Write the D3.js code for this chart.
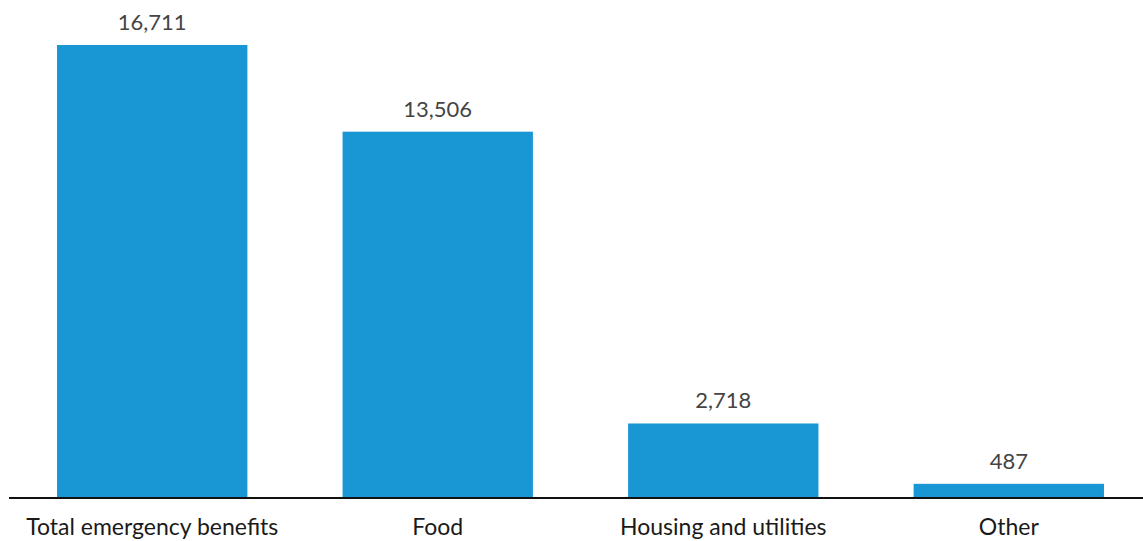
<!DOCTYPE html>
<html>
<head>
<meta charset="utf-8">
<script src="https://cdn.jsdelivr.net/npm/d3@7"></script>
<style>
  body { margin: 0; background: #fff; }
  text { font-family: Lato, "Open Sans", sans-serif; }
</style>
</head>
<body>
<script>
// chart values
const categories = ["Total emergency benefits", "Food", "Housing and utilities", "Other"];
const values = [16711, 13506, 2718, 487];

const width = 1143;
const height = 541;
const baseY = 497;

const svg = d3.select("body")
    .append("svg")
    .attr("width", width)
    .attr("height", height);

const xScale = d3.scaleBand()
    .domain(categories)
    .range([14.2, 1146.8])
    .paddingInner(1 / 3)
    .paddingOuter(0.15);

const yScale = d3.scaleLinear()
    .domain([0, 16711])
    .range([baseY, 45]);

// bars
svg.selectAll(".bar")
    .data(categories)
    .enter()
    .append("rect")
    .attr("class", "bar")
    .attr("x", d => xScale(d))
    .attr("width", xScale.bandwidth())
    .attr("y", (d, i) => yScale(values[i]))
    .attr("height", (d, i) => baseY - yScale(values[i]))
    .style("fill", "#1897d4");

// value labels
svg.selectAll(".val")
    .data(categories)
    .enter()
    .append("text")
    .attr("class", "val")
    .attr("x", d => xScale(d) + xScale.bandwidth() / 2)
    .attr("y", (d, i) => yScale(values[i]) - 15)
    .attr("text-anchor", "middle")
    .attr("font-size", "22px")
    .attr("fill", "#444")
    .text((d, i) => d3.format(",")(values[i]));

// x axis
const xAxis = d3.axisBottom(xScale).tickSize(0).tickPadding(21);
const gx = svg.append("g")
    .attr("transform", "translate(0," + (baseY + 1) + ")")
    .call(xAxis);
gx.select(".domain").remove();
gx.selectAll("text")
    .attr("font-size", "23px")
    .attr("fill", "#1a1a1a");
gx.append("line")
    .attr("x1", 9)
    .attr("x2", width)
    .attr("stroke", "#111")
    .attr("stroke-width", 2);
</script>
</body>
</html>
